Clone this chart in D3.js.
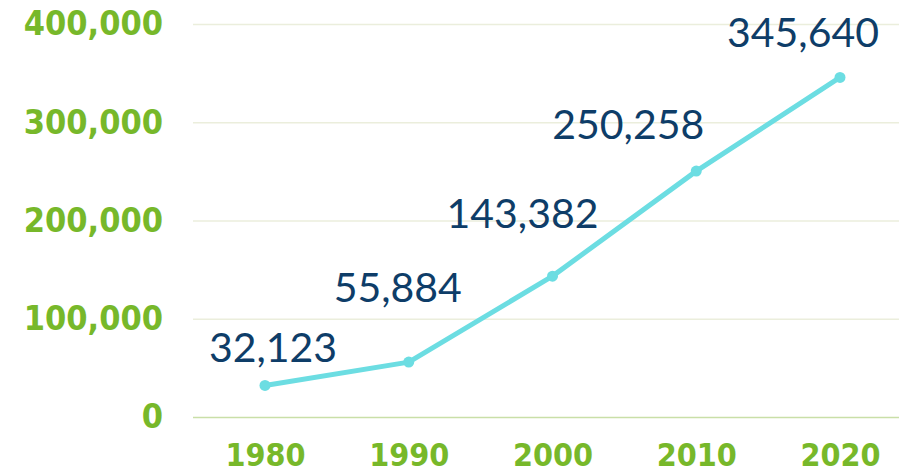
<!DOCTYPE html>
<html>
<head>
<meta charset="utf-8">
<script src="https://cdn.jsdelivr.net/npm/d3@7"></script>
<style>
    body { margin: 0; background: #fff; }
    .axis text { font-family: "DejaVu Sans Condensed", "DejaVu Sans", sans-serif; font-weight: bold; fill: #77b82a; }
    .label { font-family: Lato, "Open Sans", sans-serif; fill: #0e3d68; }
</style>
</head>
<body>
<div id="chart"></div>
<script>
// chart values
var years = ['1980', '1990', '2000', '2010', '2020']
var counts = [32123, 55884, 143382, 250258, 345640]
var yTicks = [0, 100000, 200000, 300000, 400000]
// hand placed label nudges (dx, dy from the point), like the original
var labelDx = [8, -11, -30, -68, -37]
var labelDy = [-23, -60, -48, -32, -30]

var width = 899, height = 474

var svg = d3.select('#chart').append('svg')
    .attr('width', width)
    .attr('height', height)

var xScale = d3.scalePoint().domain(years).range([265, 840])
var yScale = d3.scaleLinear().domain([0, 400000]).range([417, 24])

// y axis + grid
var yAxis = svg.append('g')
    .attr('class', 'axis')
    .attr('transform', 'translate(193,0)')
    .call(d3.axisLeft(yScale).tickValues(yTicks).tickSize(-706).tickPadding(30).tickFormat(d3.format(',')))
yAxis.select('.domain').remove()
yAxis.selectAll('line')
    .attr('stroke', d => d === 0 ? '#c9dfa8' : '#ebeedc')
    .attr('stroke-width', 1.5)
yAxis.selectAll('text').style('font-size', '34px')

// x axis
var xAxis = svg.append('g')
    .attr('class', 'axis')
    .attr('transform', 'translate(0,417)')
    .call(d3.axisBottom(xScale).tickSize(0).tickPadding(26))
xAxis.select('.domain').remove()
xAxis.selectAll('text').style('font-size', '32px')

// line
var line = d3.line()
    .x((d, i) => xScale(years[i]))
    .y(d => yScale(d))

svg.append('path')
    .datum(counts)
    .attr('fill', 'none')
    .attr('stroke', '#6cdde2')
    .attr('stroke-width', 5)
    .attr('stroke-linejoin', 'round')
    .attr('d', line)

svg.selectAll('.dot')
    .data(counts)
    .enter().append('circle')
    .attr('class', 'dot')
    .attr('cx', (d, i) => xScale(years[i]))
    .attr('cy', d => yScale(d))
    .attr('r', 5.5)
    .attr('fill', '#6cdde2')

// value labels
svg.selectAll('.label')
    .data(counts)
    .enter().append('text')
    .attr('class', 'label')
    .attr('x', (d, i) => xScale(years[i]) + labelDx[i])
    .attr('y', (d, i) => yScale(d) + labelDy[i])
    .attr('text-anchor', 'middle')
    .style('font-size', '41px')
    .text(d => d3.format(',')(d))
</script>
</body>
</html>
